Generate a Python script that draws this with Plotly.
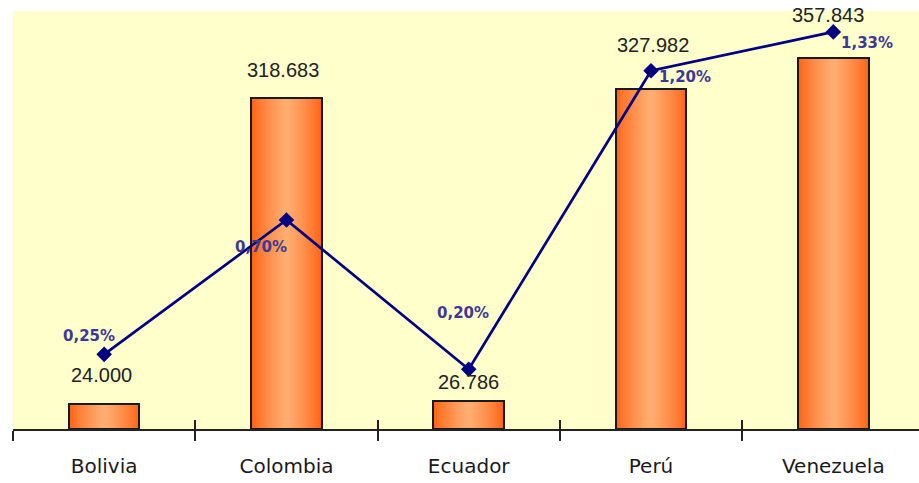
import plotly.graph_objects as go

# Data
countries = ["Bolivia", "Colombia", "Ecuador", "Perú", "Venezuela"]
values = [24000, 318683, 26786, 327982, 357843]
shares = [0.25, 0.70, 0.20, 1.20, 1.33]

# Label placement offsets (pixels)
value_xshift = [-3, -3, 0, 2, -5]
value_yshift = [29, 28, 19, 44, 43]
share_xshift = [-15, -25, -6, 34, 34]
share_yshift = [18, -27, 56, -6, -11]


def fmt_thousands(v):
    return f"{v:,}".replace(",", ".")


def fmt_pct(p):
    return f"{p:.2f}".replace(".", ",") + "%"


def mix(c1, c2, t):
    return "rgb({},{},{})".format(*[round(a + (b - a) * t) for a, b in zip(c1, c2)])


EDGE = (255, 100, 20)
CENTER = (255, 172, 112)
BAR_W = 0.387
STEPS = 18

fig = go.Figure()

# Orange cylinder-like shading: stacked bars, narrowing towards the centre
for k in range(STEPS):
    t = k / (STEPS - 1)
    fig.add_trace(go.Bar(
        x=countries, y=values,
        width=BAR_W * (1 - 0.92 * t),
        marker=dict(color=mix(EDGE, CENTER, t ** 0.8), line=dict(width=0)),
        hoverinfo="skip", showlegend=False,
    ))

# Bar outlines
fig.add_trace(go.Bar(
    x=countries, y=values, width=BAR_W,
    marker=dict(color="rgba(0,0,0,0)", line=dict(color="#1a1a1a", width=2)),
    showlegend=False, name="Valor",
))

# Share line on the secondary axis
fig.add_trace(go.Scatter(
    x=countries, y=shares, xaxis="x2", yaxis="y2",
    mode="lines+markers",
    line=dict(color="#000080", width=2.7),
    marker=dict(symbol="diamond", size=12, color="#000080"),
    showlegend=False, name="%",
))

annotations = []
for c, v, dx, dy in zip(countries, values, value_xshift, value_yshift):
    annotations.append(dict(
        x=c, y=v, xref="x", yref="y", text=fmt_thousands(v),
        showarrow=False, xshift=dx, yshift=dy, yanchor="middle",
        font=dict(family="Liberation Sans, Arial", size=20, color="#222222"),
    ))
for c, p, dx, dy in zip(countries, shares, share_xshift, share_yshift):
    annotations.append(dict(
        x=c, y=p, xref="x2", yref="y2", text="<b>" + fmt_pct(p) + "</b>",
        showarrow=False, xshift=dx, yshift=dy, yanchor="middle",
        font=dict(family="DejaVu Sans", size=15, color="#3a3a94"),
    ))

fig.update_layout(
    width=919, height=483,
    margin=dict(l=13, r=0, t=11, b=54),
    paper_bgcolor="white",
    plot_bgcolor="#FFFFCC",
    barmode="overlay",
    bargap=0,
    annotations=annotations,
    xaxis=dict(
        type="category", range=[-0.5, 4.47],
        showline=True, linecolor="#222222", linewidth=2,
        ticks="outside", tickson="boundaries", ticklen=10, tickwidth=2, tickcolor="#222222",
        ticklabelstandoff=18,
        tickfont=dict(family="DejaVu Sans", size=20, color="#1a1a1a"),
        showgrid=False, zeroline=False, fixedrange=True,
    ),
    xaxis2=dict(
        type="category", overlaying="x", anchor="y2", range=[-0.5, 4.47],
        showline=False, showticklabels=False,
        ticks="inside", tickson="boundaries", ticklen=9, tickwidth=2, tickcolor="#222222",
        showgrid=False, zeroline=False,
    ),
    yaxis=dict(range=[0, 403000], visible=False, showgrid=False, zeroline=False),
    yaxis2=dict(range=[0, 1.4], overlaying="y", visible=False,
                showgrid=False, zeroline=False),
)

fig.write_html("out.html")
